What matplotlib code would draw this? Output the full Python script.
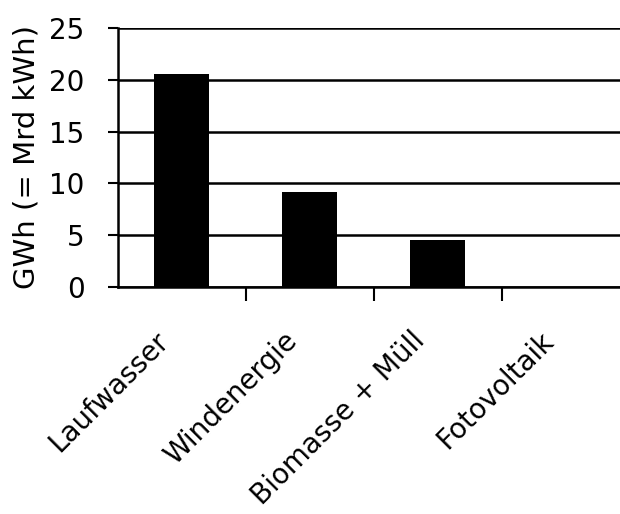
import numpy as np
import matplotlib
matplotlib.use("Agg")
import matplotlib.pyplot as plt
import matplotlib.transforms as mtransforms

categories = ["Laufwasser", "Windenergie", "Biomasse + Müll", "Fotovoltaik"]
values = [20.6, 9.2, 4.5, 0.0]
y_ticks = [0, 5, 10, 15, 20, 25]

plt.rcParams['font.family'] = ['DejaVu Sans']

fig = plt.figure(figsize=(6.2, 5.14), dpi=100)
ax = fig.add_axes([0.19, 0.4416, 0.826, 0.504])

x = np.arange(len(categories))
ax.bar(x, values, width=0.43, color="black", zorder=3)

ax.set_xlim(-0.5, len(categories) - 0.5)
ax.set_ylim(0, 25)
ax.set_yticks(y_ticks)
ax.tick_params(axis="y", labelsize=20, length=7, width=1.5, pad=17)
ax.yaxis.grid(True, color="black", linewidth=1.8, zorder=1)

ax.set_xticks(x)
ax.set_xticklabels(categories, rotation=45, ha="right", rotation_mode="anchor", fontsize=20)
ax.tick_params(axis="x", length=0, pad=14)
ax.set_xticks(x[:-1] + 0.5, minor=True)
ax.tick_params(axis="x", which="minor", length=10, width=1.5)

# shift the slanted labels a bit left and down, as in the original
shift = mtransforms.ScaledTranslation(-0.27, -0.2, fig.dpi_scale_trans)
for lab in ax.get_xticklabels():
    lab.set_transform(lab.get_transform() + shift)

ax.set_ylabel("GWh (= Mrd kWh)", fontsize=21, labelpad=6)

for side in ["top", "right"]:
    ax.spines[side].set_visible(False)
for side in ["left", "bottom"]:
    ax.spines[side].set_linewidth(1.8)

fig.savefig("out.png", dpi=100)
